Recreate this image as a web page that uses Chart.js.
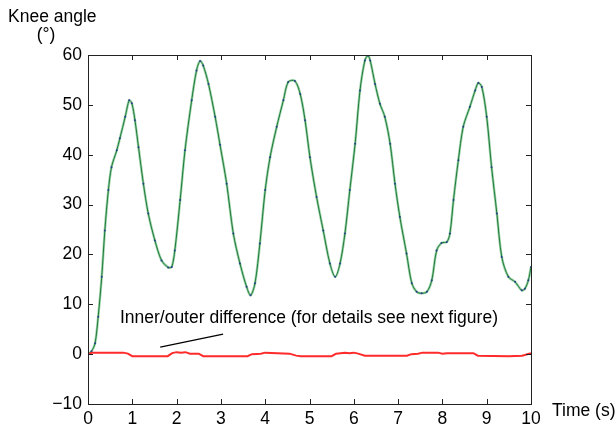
<!DOCTYPE html>
<html>
<head>
<meta charset="utf-8">
<script src="https://cdn.jsdelivr.net/npm/chart.js@4.4.0/dist/chart.umd.min.js"></script>
<style>
  html, body { margin: 0; padding: 0; background: #fff; }
  #wrap { width: 616px; height: 431px; position: relative; }
</style>
</head>
<body>
<div id="wrap"><canvas id="c" width="616" height="431"></canvas></div>
<script>
// knee angle (deg) vs time (s)
const kneeTime = [0, 0.08, 0.16, 0.23, 0.31, 0.38, 0.46, 0.53, 0.65, 0.72, 0.84, 0.93, 0.99, 1.06, 1.14, 1.25, 1.36, 1.51, 1.66, 1.81, 1.89, 1.96, 2.08, 2.19, 2.34, 2.45, 2.53, 2.60, 2.72, 2.87, 2.98, 3.13, 3.28, 3.43, 3.58, 3.67, 3.77, 3.88, 4.0, 4.11, 4.26, 4.41, 4.52, 4.67, 4.79, 4.90, 5.01, 5.16, 5.31, 5.46, 5.58, 5.69, 5.80, 5.91, 6.03, 6.14, 6.25, 6.32, 6.37, 6.48, 6.59, 6.70, 6.82, 6.93, 7.04, 7.19, 7.31, 7.42, 7.53, 7.65, 7.76, 7.87, 7.98, 8.10, 8.17, 8.25, 8.36, 8.47, 8.62, 8.74, 8.81, 8.89, 9.0, 9.11, 9.23, 9.34, 9.49, 9.64, 9.79, 9.86, 9.94, 10.0];
const kneeAngle = [0, 0.6, 2.2, 7.5, 15.5, 24.8, 32.9, 37.5, 40.9, 43.3, 47.6, 50.9, 50.3, 46.9, 41.5, 34.2, 28.2, 22.8, 18.8, 17.4, 17.5, 20.8, 30.9, 40.9, 50.9, 56.9, 58.8, 57.9, 54.2, 47.6, 42.0, 34.2, 24.2, 18.2, 13.5, 11.8, 14.2, 22.2, 32.9, 39.5, 45.6, 50.9, 54.6, 54.8, 52.2, 46.9, 39.5, 31.5, 24.8, 18.2, 15.5, 18.2, 24.2, 32.9, 42.2, 52.9, 58.9, 59.9, 58.9, 54.2, 50.2, 47.6, 42.2, 34.2, 27.5, 20.2, 14.2, 12.5, 12.2, 12.5, 14.8, 20.8, 22.3, 22.5, 24.2, 30.9, 38.9, 45.6, 49.6, 52.9, 54.4, 53.6, 47.6, 37.5, 28.2, 19.5, 15.5, 14.5, 12.8, 13.1, 14.8, 17.5];

// inner/outer difference
const diffTime = [0, 0.1, 0.8, 0.9, 1.0, 1.8, 1.9, 2.0, 2.1, 2.2, 2.3, 2.5, 2.6, 3.6, 3.7, 3.9, 4.0, 4.55, 4.7, 4.8, 5.5, 5.6, 5.8, 5.9, 6.0, 6.1, 6.25, 7.2, 7.3, 7.45, 7.55, 7.9, 8.0, 8.1, 8.7, 8.8, 9.5, 9.8, 10.0];
const diffValue = [0, 0.3, 0.3, 0.1, -0.4, -0.4, 0.2, 0.4, 0.3, 0.4, 0.1, 0.1, -0.4, -0.4, 0, 0.1, 0.3, 0.1, -0.3, -0.4, -0.4, 0.1, 0.3, 0.2, 0.3, 0.1, -0.3, -0.3, 0.0, 0.1, 0.3, 0.3, 0.1, 0.2, 0.2, -0.3, -0.4, -0.3, 0.2];

// annotation pointer line
const pointerTime = [1.63, 3.05];
const pointerValue = [1.4, 4.0];

const xTicks = [0, 1, 2, 3, 4, 5, 6, 7, 8, 9, 10];
const yTicks = [-10, 0, 10, 20, 30, 40, 50, 60];

const FONT = '"Liberation Sans", Arial, Helvetica, sans-serif';
const pts = (xs, ys) => xs.map((x, i) => ({ x, y: ys[i] }));

// box + inward ticks + labels, MATLAB style
const matlabAxes = {
    id: 'matlabAxes',
    afterDraw(chart) {
        const { ctx, chartArea: a, scales } = chart;
        const x = scales.x, y = scales.y;
        ctx.save();
        ctx.strokeStyle = '#222';
        ctx.lineWidth = 1;
        ctx.strokeRect(Math.round(a.left) + 0.5, Math.round(a.top) + 0.5,
            Math.round(a.right - a.left), Math.round(a.bottom - a.top));
        const tl = 5;
        ctx.beginPath();
        xTicks.forEach(t => {
            const px = Math.round(x.getPixelForValue(t)) + 0.5;
            ctx.moveTo(px, a.bottom); ctx.lineTo(px, a.bottom - tl);
            ctx.moveTo(px, a.top); ctx.lineTo(px, a.top + tl);
        });
        yTicks.forEach(t => {
            const py = Math.round(y.getPixelForValue(t)) + 0.5;
            ctx.moveTo(a.left, py); ctx.lineTo(a.left + tl, py);
            ctx.moveTo(a.right, py); ctx.lineTo(a.right - tl, py);
        });
        ctx.stroke();

        ctx.fillStyle = '#000';
        ctx.font = '17.5px ' + FONT;
        ctx.textAlign = 'left';
        ctx.textBaseline = 'middle';
        ctx.fillText('Knee angle', 8, 17);
        ctx.textAlign = 'center';
        ctx.fillText('(°)', 46, 35);
        ctx.textAlign = 'left';
        ctx.fillText('Time (s)', 552, 411);

        ctx.fillText('Inner/outer difference (for details see next figure)',
            x.getPixelForValue(0.72), y.getPixelForValue(7.3));
        ctx.restore();
    }
};

new Chart(document.getElementById('c'), {
    type: 'line',
    data: {
        datasets: [
            {
                data: pts(diffTime, diffValue),
                borderColor: '#ff2a2a',
                borderWidth: 2,
                pointRadius: 0,
                tension: 0,
            },
            {
                data: pts(pointerTime, pointerValue),
                borderColor: '#000',
                borderWidth: 1.2,
                pointRadius: 0,
            },
            {
                data: pts(kneeTime, kneeAngle),
                borderColor: '#1f7a3a',
                borderWidth: 1,
                pointRadius: 1,
                pointBackgroundColor: '#2b3f8c',
                pointBorderWidth: 0,
                tension: 0.3,
            },
            {
                data: pts(kneeTime, kneeAngle),
                borderColor: '#9dd3aa',
                borderWidth: 2.5,
                pointRadius: 0,
                tension: 0.3,
            },
        ],
    },
    options: {
        responsive: false,
        animation: false,
        layout: { padding: { top: 55, right: 85, left: 0, bottom: 0 } },
        plugins: { legend: { display: false }, tooltip: { enabled: false } },
        scales: {
            x: {
                type: 'linear', min: 0, max: 10,
                afterBuildTicks: s => { s.ticks = xTicks.map(v => ({ value: v })); },
                afterFit: s => { s.height = 27; },
                grid: { display: false, drawTicks: false },
                border: { display: false },
                ticks: { color: '#000', font: { family: FONT, size: 17.5 }, padding: 5, maxRotation: 0 },
            },
            y: {
                type: 'linear', min: -10, max: 60,
                afterBuildTicks: s => { s.ticks = yTicks.map(v => ({ value: v })); },
                afterFit: s => { s.width = 88; },
                grid: { display: false, drawTicks: false },
                border: { display: false },
                ticks: {
                    color: '#000', font: { family: FONT, size: 17.5 }, padding: 6,
                    callback: v => v < 0 ? '\u2212' + Math.abs(v) : String(v),
                },
            },
        },
    },
    plugins: [matlabAxes],
});
</script>
</body>
</html>
